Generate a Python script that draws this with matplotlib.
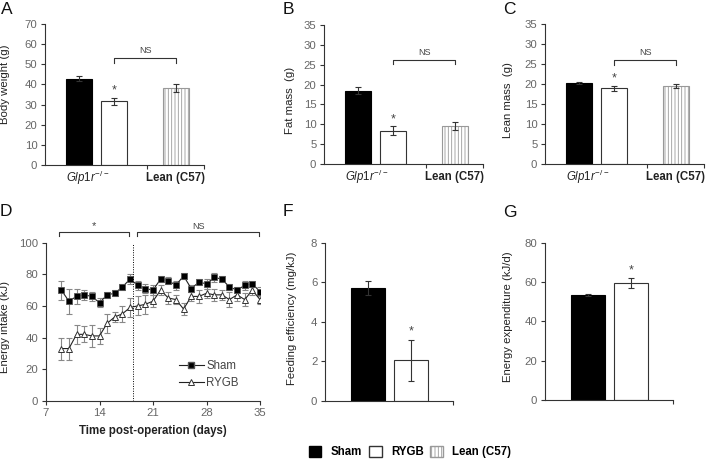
import numpy as np
import matplotlib
matplotlib.use("Agg")
import matplotlib.pyplot as plt
from matplotlib.patches import Patch
from matplotlib.lines import Line2D

plt.rcParams['font.family'] = ['Liberation Sans', 'DejaVu Sans']
plt.rcParams['mathtext.fontset'] = 'custom'
plt.rcParams['mathtext.it'] = 'Liberation Sans:italic'
plt.rcParams['mathtext.rm'] = 'Liberation Sans'
plt.rcParams['hatch.linewidth'] = 0.6

# ---- data ----
groups = ['Sham', 'RYGB', 'Lean (C57)']
body_weight = [42.8, 31.6, 38.2]
body_weight_err = [1.2, 1.8, 1.8]
fat_mass = [18.5, 8.4, 9.5]
fat_mass_err = [1.0, 1.1, 1.0]
lean_mass = [20.3, 18.9, 19.6]
lean_mass_err = [0.2, 0.6, 0.5]

days = list(range(9, 36))
sham_intake = [70, 63, 66, 67, 66, 62, 67, 68, 72, 77, 73, 71, 70, 77,
               76, 73, 79, 71, 75, 74, 78, 77, 72, 70, 73, 74, 69]
sham_intake_err = [6, 8, 5, 3, 3, 3, 2, 2, 2, 3, 3, 3, 3, 2,
                   2, 3, 2, 2, 2, 3, 3, 2, 2, 2, 3, 2, 3]
rygb_intake = [33, 33, 42, 42, 41, 41, 49, 53, 55, 59, 60, 61, 63, 70,
               65, 64, 58, 66, 66, 68, 67, 67, 64, 67, 64, 70, 64]
rygb_intake_err = [7, 7, 6, 5, 7, 5, 6, 3, 5, 6, 6, 6, 4, 3,
                   4, 3, 4, 3, 4, 3, 4, 3, 5, 4, 4, 3, 3]

feeding_eff = [5.7, 2.05]
feeding_eff_err = [0.35, 1.03]
energy_exp = [53.2, 59.3]
energy_exp_err = [0.5, 2.5]

# ---- layout helpers (pixel boxes) ----
W, H = 706, 465
fig = plt.figure(figsize=(W / 100, H / 100), dpi=100)


def add_ax(l, r, t, b):
    return fig.add_axes([l / W, 1 - b / H, (r - l) / W, (b - t) / H])


TICK_C = '#666666'
AX_C = '#333333'


def style(ax):
    for s in ['top', 'right']:
        ax.spines[s].set_visible(False)
    for s in ['left', 'bottom']:
        ax.spines[s].set_color(AX_C)
        ax.spines[s].set_linewidth(0.8)
    ax.tick_params(direction='out', length=3, width=0.8, color=AX_C,
                   labelcolor=TICK_C, labelsize=8.2, pad=2.5)


bar_colors = ['black', 'white', 'white']
bar_edges = ['black', '#333333', '#999999']
bar_hatch = [None, None, '|||||']
pos3 = [0.214, 0.434, 0.824]


def bar_panel(ax, vals, errs, ymax, ystep, nsy, star_off):
    style(ax)
    for i in range(3):
        ax.bar(pos3[i], vals[i], width=0.16, color=bar_colors[i],
               edgecolor=bar_edges[i], hatch=bar_hatch[i], linewidth=0.8)
        ax.errorbar(pos3[i], vals[i], yerr=errs[i], color='#333333',
                    capsize=2.5, elinewidth=0.8, capthick=0.8)
    ax.set_xlim(0, 1)
    ax.set_ylim(0, ymax)
    ax.set_yticks(np.arange(0, ymax + 0.1, ystep))
    ax.set_xticks([0.64, 1.0])
    ax.set_xticklabels([])
    ax.text(0.27, -0.09, r'$\mathit{Glp1r}^{-/-}$', transform=ax.transAxes,
            ha='center', va='center', fontsize=8.3, color='#222222')
    ax.text(0.82, -0.09, 'Lean (C57)', transform=ax.transAxes,
            ha='center', va='center', fontsize=8.3, fontweight='bold',
            color='#222222')
    ax.text(pos3[1], vals[1] + errs[1] + star_off, '*', ha='center',
            va='bottom', fontsize=9, color='#444444')
    d = ymax * 0.035
    ax.plot([pos3[1], pos3[1], pos3[2], pos3[2]], [nsy - d, nsy, nsy, nsy - d],
            color=AX_C, lw=0.8, clip_on=False)
    ax.text((pos3[1] + pos3[2]) / 2, nsy + ymax * 0.02, 'NS', ha='center',
            va='bottom', fontsize=6.5, color='#444444')


axA = add_ax(45, 204, 24, 165)
bar_panel(axA, body_weight, body_weight_err, 70, 10, 53, 0.5)
axB = add_ax(324, 483, 25, 164)
bar_panel(axB, fat_mass, fat_mass_err, 35, 5, 26.3, 0.3)
axC = add_ax(545, 704, 24, 164)
bar_panel(axC, lean_mass, lean_mass_err, 35, 5, 26, 0.3)

# ---- D: energy intake time course ----
axD = add_ax(46, 260, 242.7, 400.7)
style(axD)
axD.errorbar(days, sham_intake, yerr=sham_intake_err, color='#888888',
             fmt='none', capsize=2.5, elinewidth=0.8, capthick=0.8)
axD.errorbar(days, rygb_intake, yerr=rygb_intake_err, color='#888888',
             fmt='none', capsize=2.5, elinewidth=0.8, capthick=0.8)
axD.plot(days, rygb_intake, color='#222222', lw=0.8, marker='^', ms=5,
         mfc='white', mec='#333333', mew=0.7, label='RYGB')
axD.plot(days, sham_intake, color='#222222', lw=0.8, marker='s', ms=4.3,
         mfc='black', mec='#555555', mew=0.6, label='Sham')
axD.axvline(18.4, ymin=0, ymax=1, color='black', lw=0.7, ls=(0, (1, 1.5)))
axD.set_xlim(7, 35)
axD.set_ylim(0, 100)
axD.set_xticks([7, 14, 21, 28, 35])
axD.set_yticks(np.arange(0, 101, 20))
axD.set_xlabel('Time post-operation (days)', fontsize=8.3, fontweight='bold',
               color='#222222', labelpad=5)
for x0, x1, lab in [(8.7, 17.8, '*'), (18.9, 34.9, 'NS')]:
    axD.plot([x0, x0, x1, x1], [104, 107, 107, 104], color=AX_C, lw=0.8,
             clip_on=False)
    axD.text((x0 + x1) / 2, 107.5, lab, ha='center', va='bottom',
             fontsize=6.5 if lab == 'NS' else 8, color='#444444')
h = [Line2D([], [], color='#222222', lw=0.8, marker='s', ms=4.3, mfc='black',
            mec='#555555'),
     Line2D([], [], color='#222222', lw=0.8, marker='^', ms=5, mfc='white',
            mec='#333333', mew=0.7)]
leg = axD.legend(h, ['Sham', 'RYGB'], loc='lower right', frameon=False,
                 fontsize=8.3, handlelength=2.2, handletextpad=0.2,
                 labelspacing=0.4, bbox_to_anchor=(0.95, 0.01))
for t in leg.get_texts():
    t.set_color('#444444')

# ---- F and G ----
pos2 = [0.336, 0.672]


def two_bar(ax, vals, errs, ymax, ystep, star_off):
    style(ax)
    ax.bar(pos2[0], vals[0], width=0.266, color='black', edgecolor='black',
           linewidth=0.8)
    ax.bar(pos2[1], vals[1], width=0.266, color='white', edgecolor='#333333',
           linewidth=0.8)
    ax.errorbar(pos2, vals, yerr=errs, fmt='none', color='#333333',
                capsize=2.5, elinewidth=0.8, capthick=0.8)
    ax.text(pos2[1], vals[1] + errs[1] + star_off, '*', ha='center',
            va='bottom', fontsize=9, color='#444444')
    ax.set_xlim(0, 1)
    ax.set_ylim(0, ymax)
    ax.set_yticks(np.arange(0, ymax + 0.01, ystep))
    ax.set_xticks([1.0])
    ax.set_xticklabels([])


axF = add_ax(325, 453, 242.7, 401)
two_bar(axF, feeding_eff, feeding_eff_err, 8, 2, 0.15)
axG = add_ax(545, 673, 242.7, 400)
two_bar(axG, energy_exp, energy_exp_err, 80, 20, 1.0)

# ---- y labels ----
ylabels = [(5, 84, 'Body weight (g)'), (290, 100, 'Fat mass  (g)'),
           (508, 100, 'Lean mass  (g)'), (5, 327, 'Energy intake (kJ)'),
           (292, 318, 'Feeding efficiency (mg/kJ)'),
           (508, 317, 'Energy expenditure (kJ/d)')]
for x, y, s in ylabels:
    fig.text(x / W, 1 - y / H, s, rotation=90, ha='center', va='center',
             fontsize=8.2, color='#222222')

# ---- panel letters ----
for x, y, s in [(1, 2, 'A'), (283, 2, 'B'), (503, 2, 'C'), (0, 204, 'D'),
                (283, 204, 'F'), (503, 205, 'G')]:
    fig.text(x / W, 1 - y / H, s, ha='left', va='top', fontsize=12.5,
             color='#111111')

# ---- shared legend ----
handles = [Patch(facecolor='black', edgecolor='black'),
           Patch(facecolor='white', edgecolor='#333333'),
           Patch(facecolor='white', edgecolor='#999999', hatch='|||||')]
fl = fig.legend(handles, groups, loc='center', ncol=3, frameon=False,
                bbox_to_anchor=(410 / W, 1 - 452 / H),
                handlelength=1.1, handleheight=1.1, handletextpad=0.8,
                columnspacing=0.6, prop={'weight': 'bold', 'size': 8.3})

fig.savefig('out.png', dpi=100)
